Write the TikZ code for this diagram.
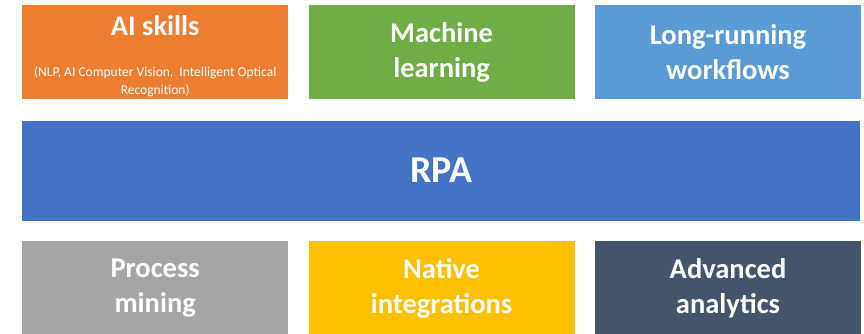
\documentclass[tikz,border=0pt]{standalone}
\usepackage{fontspec}
\setmainfont{Carlito}
\usetikzlibrary{positioning}
\definecolor{skillorange}{HTML}{ED7D31}
\definecolor{mlgreen}{HTML}{70AD47}
\definecolor{flowblue}{HTML}{5B9BD5}
\definecolor{rpablue}{HTML}{4472C4}
\definecolor{minegray}{HTML}{A5A5A5}
\definecolor{nativegold}{HTML}{FFC000}
\definecolor{analyticsslate}{HTML}{44546A}

\begin{document}
\begin{tikzpicture}[
    tile/.style={minimum width=266pt, minimum height=94pt, inner sep=0pt,
                 text=white, align=center, font=\bfseries\fontsize{28.5}{35}\selectfont},
    note/.style={text=white, align=center, inner sep=0pt, font=\fontsize{13.5}{18}\selectfont}]
    \useasboundingbox (0,0) rectangle (864pt,-334pt);

    % Top row
    \node[tile, fill=skillorange, anchor=north west] (ai) at (22pt,-5pt) {};
    \node[text=white, inner sep=0pt, font=\bfseries\fontsize{28.5}{35}\selectfont]
          (aititle) at ([yshift=-21pt]ai.north) {AI skills};
    \node[note] (aisub) at ([yshift=-77pt]ai.north)
        {(NLP, AI Computer Vision,\ \ Intelligent Optical\\Recognition)};
    \node[tile, fill=mlgreen, right=20pt of ai] (ml) {Machine\\learning};
    \node[tile, fill=flowblue, right=20pt of ml] (flows) {Long-running\\workflows};

    % Platform bar
    \node[tile, fill=rpablue, minimum width=838pt, minimum height=100pt,
          anchor=north west, font=\bfseries\fontsize{38}{42}\selectfont]
          (rpa) at ([yshift=-21pt]ai.south west) {RPA};

    % Bottom row
    \node[tile, fill=minegray, anchor=north west] (mining)
          at ([yshift=-20pt]rpa.south west) {Process\\mining};
    \node[tile, fill=nativegold, right=20pt of mining] (native) {Native\\integrations};
    \node[tile, fill=analyticsslate, right=20pt of native] (analytics) {Advanced\\analytics};
\end{tikzpicture}
\end{document}
